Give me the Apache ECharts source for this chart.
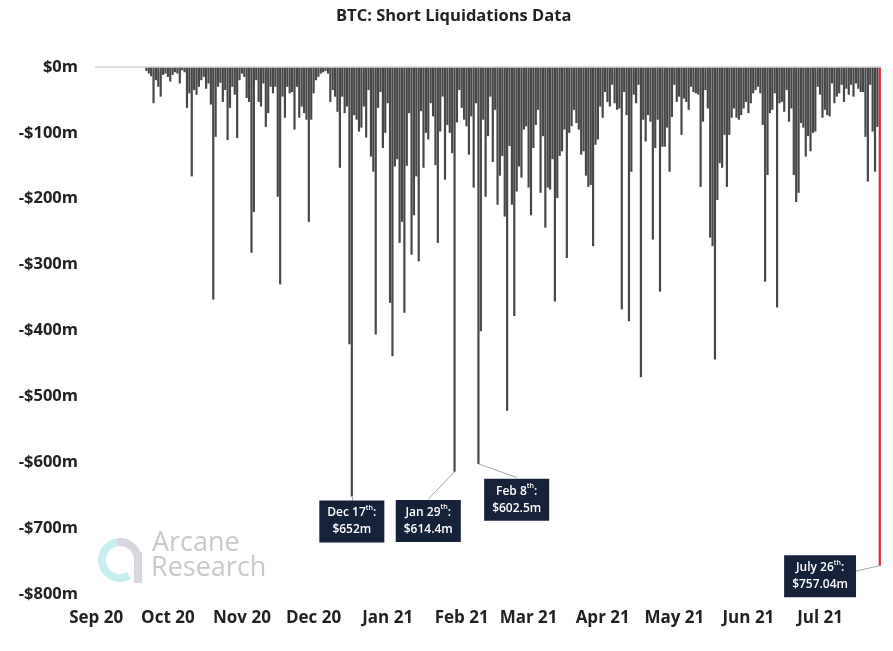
<!DOCTYPE html>
<html><head><meta charset="utf-8">
<script src="https://cdn.jsdelivr.net/npm/echarts@6/dist/echarts.min.js"></script>
<style>html,body{margin:0;padding:0;background:#fff}#c{width:893px;height:651px}</style>
</head><body><div id="c"></div>
<script>
// Month tick labels
const monthLabels = ['Sep 20','Oct 20','Nov 20','Dec 20','Jan 21','Feb 21','Mar 21','Apr 21','May 21','Jun 21','Jul 21'];

// Daily short liquidations ($m), one array per month
const sep20 = [null,null,null,null,null,null,null,null,null,null,null,null,null,null,null,null,null,null,null,null,null,
  -6,-10,-14,-55,-20,-30,-45,-12,-10];
const oct20 = [-15,-22,-12,-8,-10,-25,-5,-8,-62,-40,-166,-35,-42,-30,-20,-15,-33,-25,-57,-353,-106,-30,-24,-53,-35,-111,-62,-30,-42,-108,-20];
const nov20 = [-10,-15,-47,-53,-282,-220,-20,-53,-60,-25,-91,-70,-30,-40,-30,-197,-330,-45,-77,-30,-40,-38,-95,-30,-77,-60,-70,-80,-235,-80];
const dec20 = [-40,-20,-15,-10,-8,-6,-10,-53,-35,-45,-68,-153,-45,-70,-60,-421,-652,-73,-80,-98,-92,-60,-107,-35,-136,-159,-406,-62,-38,-123,-100];
const jan21 = [-55,-358,-439,-151,-140,-267,-235,-373,-150,-70,-285,-225,-166,-295,-67,-153,-100,-110,-55,-75,-149,-267,-98,-45,-171,-88,-100,-131,-614.4,-84,-35];
const feb21 = [-62,-80,-90,-133,-75,-183,-55,-602.5,-401,-80,-197,-105,-45,-144,-65,-209,-165,-135,-227,-522,-120,-209,-378,-189,-151,-168,-95,-90];
const mar21 = [-183,-225,-123,-88,-65,-191,-105,-244,-183,-186,-140,-356,-199,-135,-128,-95,-290,-100,-90,-65,-85,-95,-133,-128,-165,-182,-179,-272,-118,-110,-60];
const apr21 = [-77,-38,-53,-60,-27,-55,-65,-63,-368,-38,-73,-386,-159,-42,-55,-27,-471,-80,-113,-73,-83,-262,-123,-80,-341,-121,-121,-92,-159,-76];
const may21 = [-27,-53,-45,-103,-48,-53,-65,-30,-38,-40,-42,-182,-83,-35,-63,-259,-272,-444,-202,-146,-153,-103,-182,-103,-77,-63,-77,-80,-73,-63,-53];
const jun21 = [-70,-55,-40,-35,-30,-40,-88,-326,-164,-70,-65,-40,-365,-55,-53,-68,-35,-83,-63,-164,-205,-191,-85,-92,-136,-105,-128,-100,-98,-30];
const jul21 = [-42,-77,-65,-73,-75,-25,-55,-45,-40,-27,-53,-33,-42,-27,-45,-25,-33,-38,-38,-106,-174,-27,-98,-159,-91,-757.04];

const monthData = [sep20,oct20,nov20,dec20,jan21,feb21,mar21,apr21,may21,jun21,jul21];

// Build categories "Mon YY|day" and values
const categories = [];
const values = [];
monthData.forEach((arr, m) => {
  arr.forEach((v, i) => {
    categories.push(monthLabels[m] + '|' + (i + 1));
    values.push(v);
  });
});
const lastIdx = values.length - 1;

// Highlighted callouts
const callouts = [
  {at: 'Dec 20|17', val: -652,    day: 'Dec 17', amt: '$652m',    box: ['Dec 20|17', -690], lead: ['Dec 20|17', -660]},
  {at: 'Jan 21|29', val: -614.4,  day: 'Jan 29', amt: '$614.4m',  box: ['Jan 21|18', -689], lead: ['Jan 21|18', -656]},
  {at: 'Feb 21|8',  val: -602.5,  day: 'Feb 8',  amt: '$602.5m',  box: ['Feb 21|24', -657], lead: ['Feb 21|24', -623]},
  {at: 'Jul 21|26', val: -757.04, day: 'July 26',amt: '$757.04m', box: ['Jul 21|1', -773],  lead: ['Jul 21|15', -766]}
];

const FONT = 'Open Sans';
const chart = echarts.init(document.getElementById('c'));
const option = {
  animation: false,
  backgroundColor: '#fff',
  title: {
    text: 'BTC: Short Liquidations Data',
    left: 331, top: 3,
    textStyle: {fontFamily: FONT, fontWeight: 'bold', fontSize: 16.5, color: '#222'}
  },
  grid: {left: 95, right: 12, top: 67, bottom: 57},
  xAxis: {
    type: 'category',
    data: categories,
    axisLine: {show: false},
    axisTick: {show: false},
    axisLabel: {
      interval: (i, v) => v.split('|')[1] === '1',
      formatter: v => v.split('|')[0],
      margin: 16,
      fontFamily: FONT, fontWeight: 'bold', fontSize: 17, color: '#222'
    },
    splitLine: {show: false}
  },
  yAxis: {
    type: 'value',
    min: -800, max: 0, interval: 100,
    axisLine: {show: false},
    axisTick: {show: false},
    splitLine: {show: false},
    axisLabel: {
      formatter: v => v === 0 ? '$0m' : '-$' + (-v) + 'm',
      margin: 17,
      fontFamily: FONT, fontWeight: 'bold', fontSize: 16.5, color: '#222'
    }
  },
  series: [{
    type: 'bar',
    data: values.map((v, i) => i === lastIdx ? {value: v, itemStyle: {color: '#e32a2a'}} : v),
    barCategoryGap: '8%',
    itemStyle: {color: '#474747'},
    markLine: {
      silent: true,
      symbol: ['none', 'none'],
      label: {show: false},
      lineStyle: {color: '#a8a8a8', type: 'solid', width: 1},
      data: [
        {yAxis: 0, lineStyle: {color: '#d4d4d4', type: 'solid', width: 1.5}},
        ...callouts.map(c => [{coord: [c.at, c.val]}, {coord: c.lead}])
      ]
    },
    markPoint: {
      silent: true,
      symbol: 'rect',
      symbolSize: 1,
      itemStyle: {color: 'rgba(0,0,0,0)'},
      label: {
        show: true,
        position: 'inside',
        backgroundColor: '#16213a',
        padding: [4, 8, 4, 8],
        align: 'center',
        rich: {
          t: {color: '#fff', fontFamily: FONT, fontWeight: 600, fontSize: 12, lineHeight: 17},
          s: {color: '#fff', fontFamily: FONT, fontWeight: 600, fontSize: 7, lineHeight: 17, verticalAlign: 'top', padding: [0, 0, 6, 0]}
        }
      },
      data: callouts.map(c => ({
        coord: c.box,
        label: {formatter: '{t|' + c.day + '}{s|th}{t|:}\n{t|' + c.amt + '}'}
      }))
    }
  }],
  graphic: [
    {type: 'arc', silent: true, shape: {cx: 120, cy: 560, r: 18, startAngle: Math.PI / 3, endAngle: Math.PI * 1.45, clockwise: true},
     style: {stroke: '#c6eef0', lineWidth: 8, fill: null}},
    {type: 'arc', silent: true, shape: {cx: 120, cy: 560, r: 18, startAngle: Math.PI * 1.45, endAngle: Math.PI * 2, clockwise: true},
     style: {stroke: '#d8d6de', lineWidth: 8, fill: null}},
    {type: 'rect', silent: true, shape: {x: 134, y: 552, width: 8, height: 31}, style: {fill: '#d8d6de'}},
    {type: 'text', silent: true, left: 152, top: 530,
     style: {text: 'Arcane', fontFamily: FONT, fontSize: 27, fill: '#c9c9c9'}},
    {type: 'text', silent: true, left: 151, top: 555,
     style: {text: 'Research', fontFamily: FONT, fontSize: 27, fill: '#c9c9c9'}}
  ]
};
chart.setOption(option);
</script>
</body></html>
